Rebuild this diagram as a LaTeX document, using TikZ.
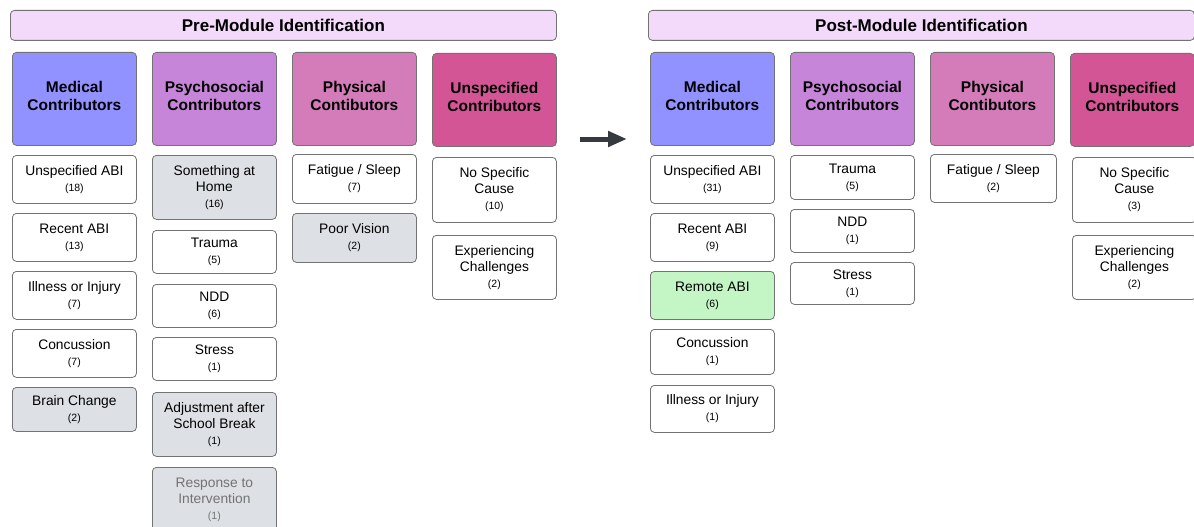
\documentclass[tikz,border=0pt]{standalone}
\usepackage{fontspec}
\setmainfont{Liberation Sans}
\usetikzlibrary{arrows.meta}

\definecolor{hdrfill}{HTML}{F3D9FA}
\definecolor{medfill}{HTML}{9191FF}
\definecolor{psyfill}{HTML}{C785D9}
\definecolor{phyfill}{HTML}{D47CB9}
\definecolor{unsfill}{HTML}{D35595}
\definecolor{oldfill}{HTML}{DDE0E4}
\definecolor{newfill}{HTML}{C3F5C5}
\definecolor{arrgray}{HTML}{343A40}

\tikzset{
  box/.style   = {draw=black!55, rounded corners=4pt, line width=0.8pt,
                  anchor=north west, minimum width=124pt, align=center, inner sep=2pt},
  title/.style = {box, fill=hdrfill, minimum width=546pt, minimum height=30pt,
                  font=\fontsize{17}{20}\selectfont\bfseries},
  cat/.style   = {box, minimum height=93pt, font=\fontsize{15.5}{18}\selectfont\bfseries},
  item/.style  = {box, fill=white, font=\fontsize{13.8}{16}\selectfont},
  gone/.style  = {item, fill=oldfill}, % dropped after the module
  added/.style = {item, fill=newfill}  % new after the module
}
\newcommand{\cnt}[1]{\\[0pt]{\fontsize{10.5}{12}\selectfont(#1)}}
\newcommand{\lift}{\\[-12pt]} % nudges the heading text up a little

\begin{document}
\begin{tikzpicture}[x=1pt,y=-1pt]
\useasboundingbox (0,0) rectangle (1194,527);

% before
\node[title] (preT) at (10,10) {Pre-Module Identification};
\node[cat, fill=medfill] (preMed) at (12,52)  {Medical\\Contributors\lift};
\node[cat, fill=psyfill] (prePsy) at (152,52) {Psychosocial\\Contributors\lift};
\node[cat, fill=phyfill] (prePhy) at (292,52) {Physical\\Contibutors\lift};
\node[cat, fill=unsfill] (preUns) at (432,53) {Unspecified\\Contributors\lift};

\node[item, minimum height=48pt] (preMed1) at (12,155) {Unspecified ABI\cnt{18}};
\node[item, minimum height=48pt] (preMed2) at (12,213) {Recent ABI\cnt{13}};
\node[item, minimum height=48pt] (preMed3) at (12,271) {Illness or Injury\cnt{7}};
\node[item, minimum height=48pt] (preMed4) at (12,329) {Concussion\cnt{7}};
\node[gone, minimum height=44pt] (preMed5) at (12,387) {Brain Change\cnt{2}};

\node[gone, minimum height=64pt] (prePsy1) at (152,155) {Something at\\Home\cnt{16}};
\node[item, minimum height=43pt] (prePsy2) at (152,230) {Trauma\cnt{5}};
\node[item, minimum height=43pt] (prePsy3) at (152,284) {NDD\cnt{6}};
\node[item, minimum height=43pt] (prePsy4) at (152,337) {Stress\cnt{1}};
\node[gone, minimum height=64pt] (prePsy5) at (152,392) {Adjustment after\\School Break\cnt{1}};
\node[gone, minimum height=64pt, text=black!55] (prePsy6) at (152,467) {Response to\\Intervention\cnt{1}};

\node[item, minimum height=49pt] (prePhy1) at (292,154) {Fatigue / Sleep\cnt{7}};
\node[gone, minimum height=49pt] (prePhy2) at (292,213) {Poor Vision\cnt{2}};

\node[item, minimum height=65pt] (preUns1) at (432,157) {No Specific\\Cause\cnt{10}};
\node[item, minimum height=64pt] (preUns2) at (432,235) {Experiencing\\Challenges\cnt{2}};

% arrow between the two halves
\coordinate (goS) at (580,139);
\coordinate (goE) at (627,139);
\draw[arrgray, line width=5pt, -{Triangle[length=19pt,width=15pt]}] (goS) -- (goE);

% after
\node[title] (postT) at (648,10) {Post-Module Identification};
\node[cat, fill=medfill] (postMed) at (650,52)  {Medical\\Contributors\lift};
\node[cat, fill=psyfill] (postPsy) at (790,52)  {Psychosocial\\Contributors\lift};
\node[cat, fill=phyfill] (postPhy) at (930,52)  {Physical\\Contibutors\lift};
\node[cat, fill=unsfill] (postUns) at (1070,53) {Unspecified\\Contributors\lift};

\node[item, minimum height=48pt] (postMed1) at (650,155) {Unspecified ABI\cnt{31}};
\node[item, minimum height=48pt] (postMed2) at (650,213) {Recent ABI\cnt{9}};
\node[added, minimum height=48pt] (postMed3) at (650,271) {Remote ABI\cnt{6}};
\node[item, minimum height=45pt] (postMed4) at (650,329) {Concussion\cnt{1}};
\node[item, minimum height=47pt] (postMed5) at (650,385) {Illness or Injury\cnt{1}};

\node[item, minimum height=44pt] (postPsy1) at (790,155) {Trauma\cnt{5}};
\node[item, minimum height=43pt] (postPsy2) at (790,209) {NDD\cnt{1}};
\node[item, minimum height=42pt] (postPsy3) at (790,262) {Stress\cnt{1}};

\node[item, minimum height=48pt, minimum width=126pt] (postPhy1) at (930,154) {Fatigue / Sleep\cnt{2}};

\node[item, minimum height=65pt] (postUns1) at (1072,157) {No Specific\\Cause\cnt{3}};
\node[item, minimum height=64pt] (postUns2) at (1072,235) {Experiencing\\Challenges\cnt{2}};
\end{tikzpicture}
\end{document}
